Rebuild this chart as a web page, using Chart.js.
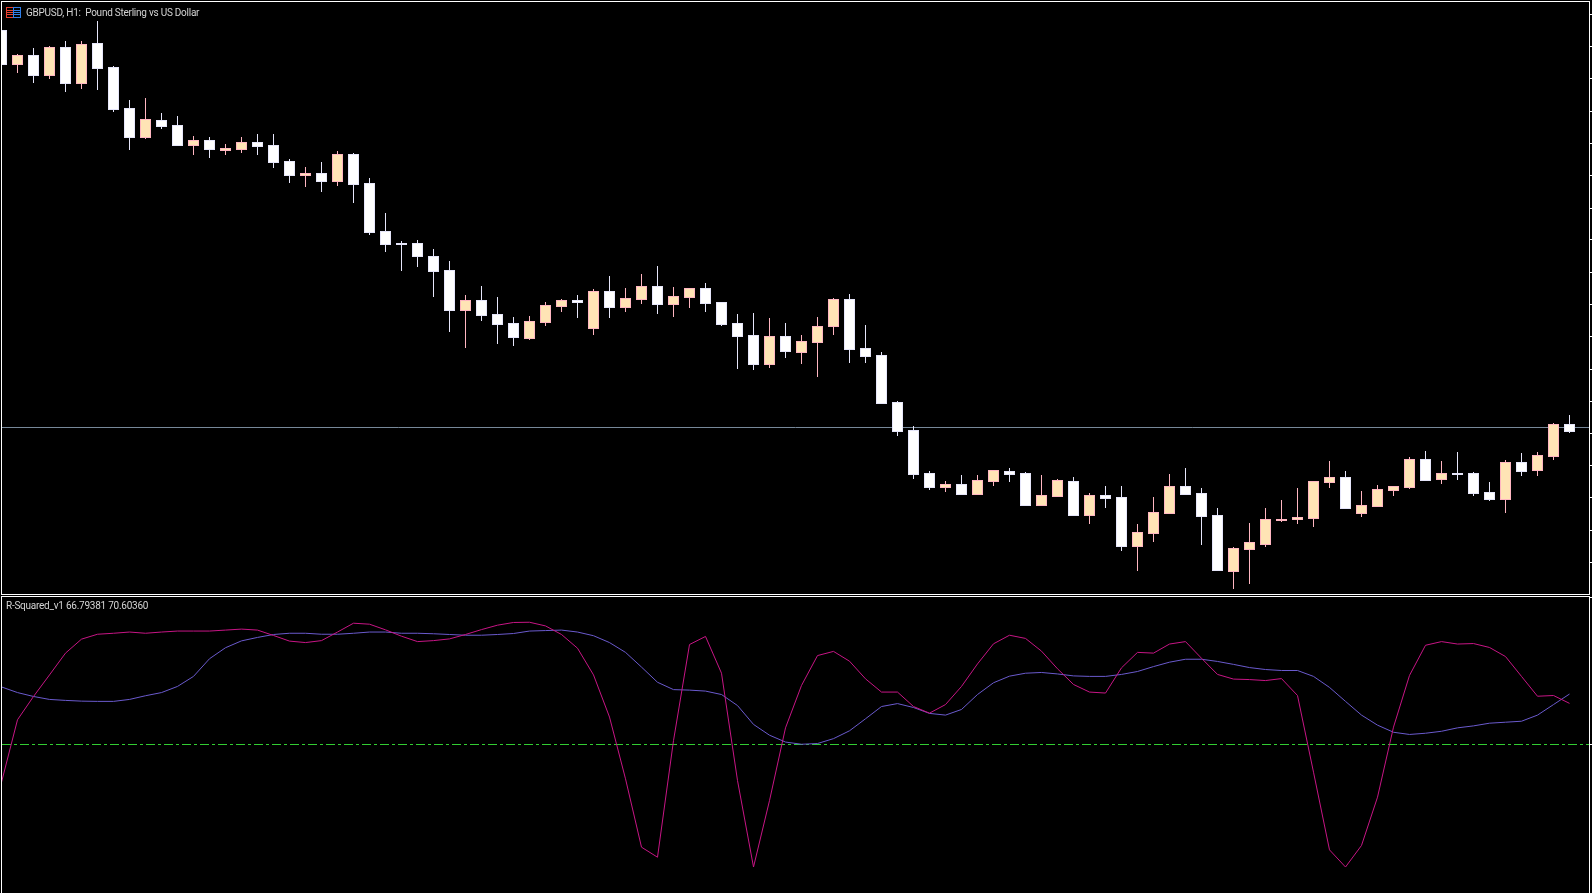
<!DOCTYPE html>
<html>
<head>
<meta charset="utf-8">
<title>GBPUSD, H1</title>
<script src="https://cdn.jsdelivr.net/npm/chart.js@4"></script>
<style>
  html, body { margin: 0; padding: 0; background: #000; overflow: hidden; }
  #page { position: relative; width: 1592px; height: 893px; background: #000; overflow: hidden; }
  canvas { position: absolute; left: 0; display: block; }
  #priceChart { top: 0; }
  #indicatorChart { top: 595px; }
  .label { position: absolute; color: #d4d4d4; font: 10px Roboto, "Noto Sans", sans-serif; letter-spacing: -0.25px; white-space: pre; line-height: 14px; }
  #priceLabel { left: 26px; top: 6px; }
  #indicatorLabel { left: 6px; top: 599px; }
  #icon { position: absolute; left: 6px; top: 7px; }
</style>
</head>
<body>
<div id="page">
  <canvas id="priceChart" width="1592" height="595"></canvas>
  <canvas id="indicatorChart" width="1592" height="298"></canvas>
  <svg id="icon" width="15" height="11" viewBox="0 0 15 11">
    <rect x="0.5" y="0.5" width="7" height="10" fill="none" stroke="#e8402f"/>
    <rect x="7.5" y="0.5" width="7" height="10" fill="none" stroke="#2f7fe8"/>
    <path d="M1 3.5h6M1 5.5h6M1 7.5h6" stroke="#e8402f"/>
    <path d="M8 3.5h6M8 5.5h6M8 7.5h6" stroke="#2f7fe8"/>
  </svg>
  <div class="label" id="priceLabel">GBPUSD, H1:  Pound Sterling vs US Dollar</div>
  <div class="label" id="indicatorLabel">R-Squared_v1 66.79381 70.60360</div>
</div>
<script>
// the picture has no price labels, so prices are in relative points read off the candles
const opens = [570,535,545,524,553,516,557,533,492,462,480,475,454,460,449,450,458,455,439,424,427,418,446,417,369,357,357,344,330,289,300,286,277,261,277,293,300,271,309,292,300,314,295,302,312,298,277,265,235,264,247,257,273,301,252,245,198,170,127,112,116,105,118,129,127,94,103,119,84,105,103,53,66,86,114,107,85,28,50,55,79,80,81,117,123,86,93,109,112,141,120,127,127,108,100,138,129,143,176];
const highs = [570,546,552,554,559,559,579,534,500,502,487,484,464,463,456,463,466,466,441,433,438,449,447,422,387,359,360,351,339,305,314,303,283,284,298,301,305,311,324,312,326,334,313,312,317,298,286,287,282,277,265,283,302,306,275,248,199,174,129,119,125,125,130,132,128,125,121,123,107,114,114,76,103,126,132,112,92,53,77,92,100,112,119,139,129,109,115,114,143,149,139,148,128,118,140,147,148,177,185];
const lows = [535,527,517,521,508,511,510,488,450,461,471,454,445,442,445,447,445,432,417,413,408,414,397,365,348,329,333,303,268,252,279,256,254,260,274,288,282,265,282,288,296,286,283,292,288,274,231,230,232,242,236,223,265,237,237,196,164,121,110,108,105,105,114,118,94,94,103,84,76,92,49,29,58,86,105,55,29,11,16,53,78,76,73,112,91,83,93,104,111,119,116,120,104,99,87,124,124,140,167];
const closes = [535,545,524,553,516,556,531,490,462,481,473,454,460,450,452,458,453,437,424,427,418,446,415,367,355,355,343,328,289,300,284,275,262,279,295,300,297,309,292,302,314,295,304,312,296,275,263,235,264,248,259,274,301,250,243,196,168,125,112,116,105,120,130,125,94,105,120,84,105,101,53,68,88,114,105,83,29,52,58,81,81,83,119,123,91,95,111,114,141,119,127,125,106,100,138,128,145,176,168];

const bidLevel = 172.5;
const priceTicks = [585.5,553,521,488.5,456.5,424.5,392,360,327.5,295.5,263.5,231,198.5,166.5,134.5,102.5,70,38];

// R-Squared_v1 lines, 0 to 100
const rSquared = [34.6,60.1,69.6,78.4,87.3,93.0,95.0,95.4,95.9,95.4,95.9,96.3,96.3,96.3,96.7,97.1,96.7,94.5,92.2,91.6,92.4,95.9,99.5,99.1,96.8,94.2,92.0,92.4,93.1,94.9,96.9,98.7,99.8,99.9,98.4,94.9,89.3,78.4,61.2,36.0,8.1,4.0,51.6,90.8,94.1,79.1,35.3,0.0,27.1,56.8,74.1,86.3,88.0,84.0,76.8,71.4,71.4,65.5,62.8,66.3,73.7,82.9,91.1,94.6,93.3,88.1,80.9,74.5,71.4,71.0,81.3,87.6,87.3,91.0,92.0,85.2,78.6,76.7,76.5,76.1,76.9,70.0,38.7,7.0,0.0,8.8,28.5,57.1,78.2,90.5,92.0,91.0,91.2,89.6,85.9,77.8,69.7,70.0,66.79];
const rSquaredSignal = [73.5,71.2,69.6,68.4,68.0,67.7,67.6,67.6,68.4,69.9,71.2,73.7,77.8,85.0,89.5,92.3,93.7,94.9,95.4,95.4,95.0,95.0,95.4,95.9,95.9,95.4,95.4,95.2,94.9,94.6,94.6,94.9,95.3,96.3,96.5,96.7,95.9,94.4,91.6,87.6,81.6,75.4,72.4,72.2,71.8,70.4,65.9,58.2,53.8,51.0,50.1,50.4,52.4,55.6,60.5,65.5,66.7,65.1,62.7,62.0,64.3,70.4,75.2,77.9,79.1,79.4,78.8,78.0,77.8,77.8,78.6,79.8,81.8,83.6,84.8,84.8,83.9,82.7,81.4,80.6,80.2,80.2,77.8,73.3,67.6,62.0,57.9,55.0,54.1,54.6,55.4,56.8,57.6,58.7,59.1,59.5,62.0,66.3,70.60];
const levelValue = 50;
const indicatorTicks = [110, 50];

// one candle is 16px wide, first one starts half hidden behind the frame
const xMin = 0.03125;
const xMax = 99.21875;

const upFill = "#FFE4B5";
const upEdge = "#FFB6C1";
const downFill = "#FFFFFF";
const downEdge = "#E6E6FA";

function isUp(i) {
  return closes[i] >= opens[i];
}

// white frame round each pane
const paneFrame = {
  id: "paneFrame",
  afterDraw(chart) {
    const a = chart.chartArea;
    const ctx = chart.ctx;
    ctx.save();
    ctx.strokeStyle = "#FFFFFF";
    ctx.lineWidth = 1;
    ctx.strokeRect(a.left - 0.5, a.top - 0.5, a.right - a.left + 1, a.bottom - a.top + 1);
    ctx.restore();
  },
};

function paneX() {
  return { type: "linear", display: false, min: xMin, max: xMax, offset: false };
}

function paneY(min, max, tickValues) {
  return {
    position: "right",
    min: min,
    max: max,
    afterBuildTicks(scale) {
      scale.ticks = tickValues.map((v) => ({ value: v }));
    },
    ticks: { display: false },
    border: { display: false },
    grid: { drawOnChartArea: false, drawTicks: true, tickLength: 3, tickColor: "#FFFFFF" },
  };
}

Chart.defaults.animation = false;
Chart.defaults.responsive = false;
Chart.defaults.plugins.legend.display = false;
Chart.defaults.plugins.tooltip.enabled = false;

new Chart(document.getElementById("priceChart").getContext("2d"), {
  type: "bar",
  data: {
    datasets: [
      {
        type: "line",
        data: [
          { x: xMin, y: bidLevel },
          { x: xMax, y: bidLevel },
        ],
        borderColor: "#778899",
        borderWidth: 1,
        pointRadius: 0,
        order: 3,
      },
      {
        label: "wicks",
        data: opens.map((o, i) => ({ x: i, y: [lows[i], highs[i]] })),
        backgroundColor: opens.map((o, i) => (isUp(i) ? upEdge : downEdge)),
        barThickness: 1,
        borderWidth: 0,
        inflateAmount: 0,
        grouped: false,
        order: 2,
      },
      {
        label: "bodies",
        data: opens.map((o, i) => ({ x: i, y: [o, closes[i]] })),
        backgroundColor: opens.map((o, i) => (isUp(i) ? upFill : downFill)),
        borderColor: opens.map((o, i) => (isUp(i) ? upEdge : downEdge)),
        barThickness: 11,
        borderWidth: 1,
        borderSkipped: false,
        inflateAmount: 0,
        grouped: false,
        order: 1,
      },
    ],
  },
  options: {
    layout: { padding: { left: 2, top: 2, right: 0, bottom: 1 } },
    scales: { x: paneX(), y: paneY(6, 598, priceTicks) },
  },
  plugins: [paneFrame],
});

new Chart(document.getElementById("indicatorChart").getContext("2d"), {
  type: "line",
  data: {
    datasets: [
      {
        data: [
          { x: xMin, y: levelValue },
          { x: xMax, y: levelValue },
        ],
        borderColor: "#32CD32",
        borderWidth: 1,
        borderDash: [9, 3, 3, 3],
        pointRadius: 0,
        order: 3,
      },
      {
        data: rSquaredSignal.map((v, i) => ({ x: i, y: v })),
        borderColor: "#6A5ACD",
        borderWidth: 1,
        pointRadius: 0,
        tension: 0,
        order: 2,
      },
      {
        data: rSquared.map((v, i) => ({ x: i, y: v })),
        borderColor: "#C71585",
        borderWidth: 1,
        pointRadius: 0,
        tension: 0,
        order: 1,
      },
    ],
  },
  options: {
    layout: { padding: { left: 2, top: 2, right: 0, bottom: 0 } },
    scales: { x: paneX(), y: paneY(-10.6, 110.2, indicatorTicks) },
  },
  plugins: [paneFrame],
});
</script>
</body>
</html>
